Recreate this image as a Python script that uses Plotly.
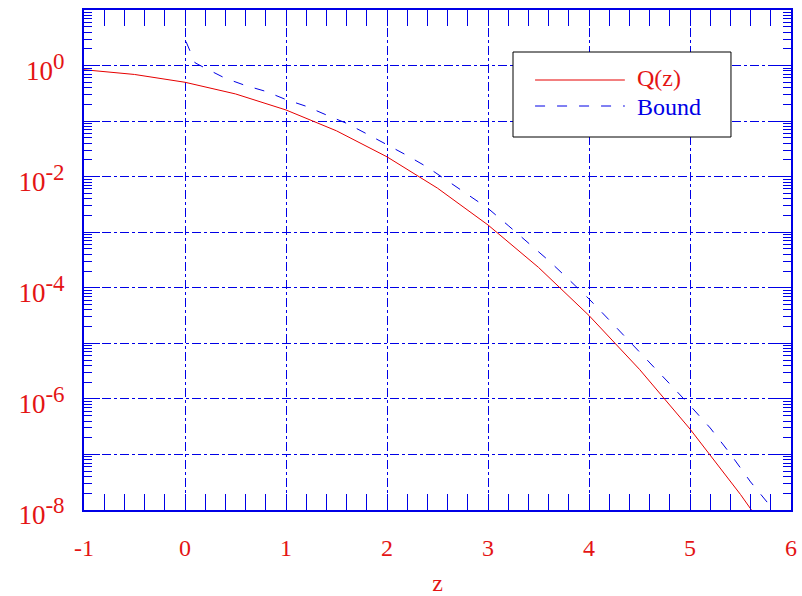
import plotly.graph_objects as go

# Q(z)
z_q = [-1.0, -0.5, 0.0, 0.5, 1.0, 1.5, 2.0, 2.5, 3.0, 3.5, 4.0, 4.5, 5.0, 5.5, 6.0]
q_vals = [0.8413, 0.6915, 0.5, 0.3085, 0.1587, 0.06681, 0.02275, 0.00621, 0.00135,
          2.326e-4, 3.167e-5, 3.398e-6, 2.867e-7, 1.899e-8, 9.866e-10]

# Bound
z_b = [0.01, 0.1, 0.2, 0.4, 0.6, 0.8, 1.0, 1.2, 1.4, 1.6, 1.8, 2.0, 2.2, 2.4, 2.6, 2.8,
       3.0, 3.2, 3.4, 3.6, 3.8, 4.0, 4.2, 4.4, 4.6, 4.8, 5.0, 5.2, 5.4, 5.6, 5.8, 6.0]
b_vals = [2.7, 1.12, 0.90, 0.589, 0.437, 0.343, 0.244, 0.185, 0.129, 0.0912, 0.0589,
          0.0380, 0.0240, 0.0148, 8.3e-3, 4.7e-3, 2.69e-3, 1.32e-3, 6.5e-4, 3.1e-4,
          1.41e-4, 6.3e-5, 2.63e-5, 1.10e-5, 4.5e-6, 1.86e-6, 7.6e-7, 3.0e-7, 1.02e-7,
          3.2e-8, 1.15e-8, 4.0e-9]

x_ticks = [-1, 0, 1, 2, 3, 4, 5, 6]
x_labels = ["-1", "0", "1", "2", "3", "4", "5", "6"]
y_label_exps = [0, -2, -4, -6, -8]
y_odd_exps = [1, -1, -3, -5, -7]
y_labels = ["10<sup><span style='font-size:23px'>%d</span></sup>" % e for e in y_label_exps]

RED = "rgb(228,20,20)"
BLUE = "rgb(0,0,230)"
FONT = "Liberation Serif"

fig = go.Figure()
fig.add_trace(go.Scatter(x=z_q, y=q_vals, mode="lines", name="Q(z)",
                         line=dict(color="rgb(230,0,0)", width=1), showlegend=False))
fig.add_trace(go.Scatter(x=z_b, y=b_vals, mode="lines", name="Bound", yaxis="y2",
                         line=dict(color=BLUE, width=1, dash="10px,12px"), showlegend=False))

y_minor = [k * 10.0 ** e for e in range(-8, 1) for k in range(2, 10)]
x_minor = [round(-1 + 0.2 * i, 2) for i in range(36)
           if abs(round(-1 + 0.2 * i, 2) - round(-1 + 0.2 * i)) > 1e-6]

common = dict(ticks="inside", ticklen=16, tickwidth=1, tickcolor=BLUE,
              showline=True, linecolor=BLUE, linewidth=2, mirror="allticks",
              showgrid=True, gridcolor=BLUE, griddash="dashdot", gridwidth=1,
              zeroline=False)

fig.update_layout(
    xaxis=dict(range=[-1, 6], tickmode="array", tickvals=x_ticks, ticktext=x_labels,
               minor=dict(tickmode="array", tickvals=x_minor, ticks="inside", ticklen=7,
                          tickcolor=BLUE, tickwidth=1, showgrid=False),
               tickfont=dict(family=FONT, size=24, color=RED), ticklabelstandoff=15,
               title=dict(text="z", font=dict(family=FONT, size=24, color=RED), standoff=18),
               **common),
    yaxis=dict(type="log", range=[-8, 1], tickmode="array",
               tickvals=[10.0 ** e for e in y_label_exps], ticktext=y_labels,
               minor=dict(tickmode="array", tickvals=y_minor, ticks="inside", ticklen=8,
                          tickcolor=BLUE, tickwidth=1, showgrid=False),
               tickfont=dict(family=FONT, size=27, color=RED), ticklabelstandoff=12,
               ticklabelshift=5, **common),
    yaxis2=dict(type="log", range=[-8, 1], overlaying="y", side="left", tickmode="array",
                tickvals=[10.0 ** e for e in y_odd_exps], showticklabels=False, **common),
)

# legend drawn in paper coordinates
fig.add_shape(type="rect", xref="paper", yref="paper", x0=0.6068, x1=0.9151, y0=0.746, y1=0.916,
              line=dict(color="black", width=1), fillcolor="white", layer="above")
fig.add_shape(type="line", xref="paper", yref="paper", x0=0.638, x1=0.765, y0=0.86, y1=0.86,
              line=dict(color="rgb(230,0,0)", width=1), layer="above")
fig.add_shape(type="line", xref="paper", yref="paper", x0=0.638, x1=0.765, y0=0.808, y1=0.808,
              line=dict(color=BLUE, width=1, dash="10px,12px"), layer="above")
fig.add_annotation(xref="paper", yref="paper", x=0.779, y=0.864, text="Q(z)", showarrow=False,
                   xanchor="left", yanchor="middle", font=dict(family=FONT, size=24, color=RED))
fig.add_annotation(xref="paper", yref="paper", x=0.779, y=0.806, text="Bound", showarrow=False,
                   xanchor="left", yanchor="middle", font=dict(family=FONT, size=24, color=BLUE))

fig.update_layout(width=802, height=596, margin=dict(l=84, r=11, t=10, b=86, autoexpand=False),
                  plot_bgcolor="white", paper_bgcolor="white", showlegend=False)

fig.write_html("out.html", config={"displayModeBar": False},
               post_script="document.body.style.margin='0';")
